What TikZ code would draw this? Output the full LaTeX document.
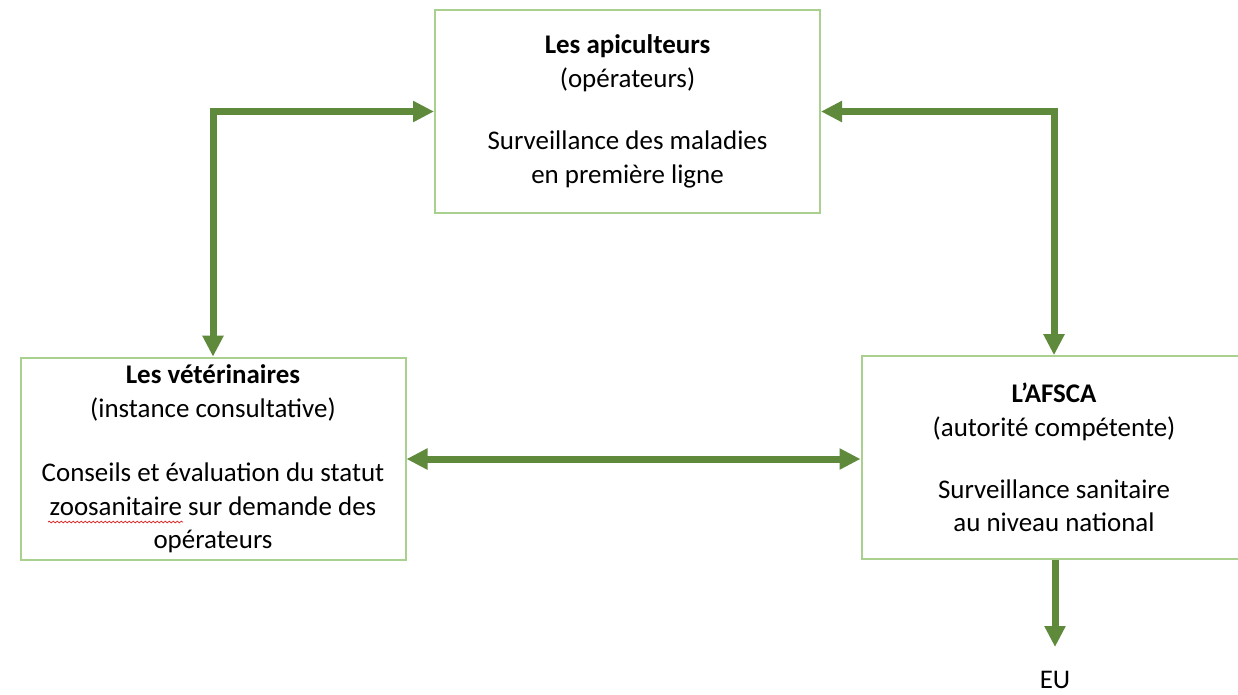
\documentclass[tikz,border=0pt]{standalone}
\usepackage{fontspec}
\setmainfont{Carlito}
\usetikzlibrary{arrows.meta,calc,decorations.pathmorphing}
\definecolor{arrowgreen}{RGB}{95,138,59}
\definecolor{boxgreen}{RGB}{169,208,142}
\definecolor{spellred}{RGB}{220,40,40}
\begin{document}
\begin{tikzpicture}[x=0.75pt,y=-0.75pt,
  box/.style={draw=boxgreen,line width=1.5pt,fill=white,inner sep=0pt,
    minimum width=288.75pt,minimum height=152pt,align=center,
    font=\fontsize{20.2pt}{25.2pt}\selectfont},
  link/.style={draw=arrowgreen,line width=5.25pt,
    arrows={Triangle[length=15.75pt,width=15pt,fill=arrowgreen]-Triangle[length=15.75pt,width=15pt,fill=arrowgreen]}},
  onelink/.style={draw=arrowgreen,line width=5.25pt,
    arrows={-Triangle[length=15.75pt,width=15pt,fill=arrowgreen]}},
  lbl/.style={inner sep=0pt,font=\fontsize{20.2pt}{25.2pt}\selectfont}]
\useasboundingbox (0,0) rectangle (1238,694);
\fill[white] (0,0) rectangle (1238,694);
\node[box] (api) at (627.5,111.5)
  {\textbf{Les apiculteurs}\\(opérateurs)\\[21.5pt]Surveillance des maladies\\en première ligne};
\node[box] (vet) at (213,459)
  {\textbf{Les vétérinaires}\\(instance consultative)\\[23pt]Conseils et évaluation du statut\\zoosanitaire sur demande des\\opérateurs};
\node[box] (afsca) at (1054,457.5)
  {\textbf{L’AFSCA}\\(autorité compétente)\\[21.5pt]Surveillance sanitaire\\au niveau national};
\node[lbl] (eu) at (1055,680) {EU};
\draw[link] (vet.north) |- (api.west);
\draw[link] (api.east) -| (afsca.north);
\draw[link] (vet.east) -- (vet.east -| afsca.west);
\draw[onelink] (afsca.south -| eu.north) -- ($(eu.north)+(0,-24)$);
\draw[spellred,line width=0.6pt,decorate,decoration={snake,segment length=3pt,amplitude=0.6pt}] (48,522) -- (183,522);
\end{tikzpicture}
\end{document}
